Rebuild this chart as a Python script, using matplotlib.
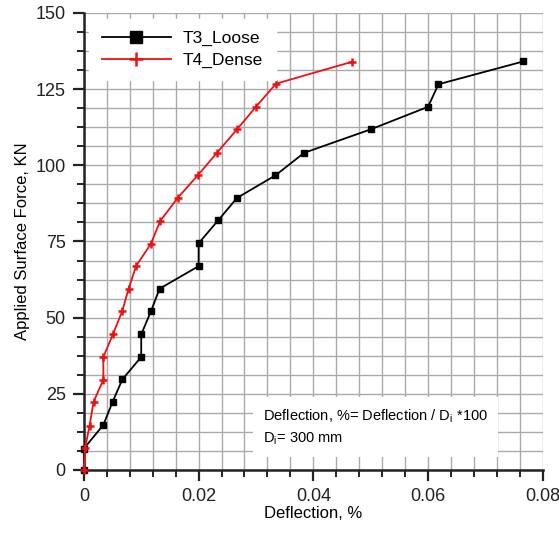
import matplotlib
matplotlib.use("Agg")
import matplotlib.pyplot as plt
from matplotlib.ticker import MultipleLocator

plt.rcParams['font.family'] = ['Liberation Sans', 'DejaVu Sans']

loose_x = [0, 0, 0.0034, 0.005, 0.0067, 0.01, 0.01, 0.0117, 0.0132, 0.02, 0.02,
           0.0234, 0.0267, 0.0334, 0.0384, 0.05, 0.06, 0.0618, 0.0766]
loose_y = [0, 7.0, 14.8, 22.3, 29.7, 37.1, 44.5, 52.1, 59.5, 66.9, 74.4,
           81.9, 89.3, 96.7, 104.1, 111.8, 119.2, 126.6, 134.1]

dense_x = [0, 0.0002, 0.001, 0.0017, 0.0034, 0.0034, 0.0051, 0.0067, 0.0078, 0.0091,
           0.0117, 0.0133, 0.0164, 0.0199, 0.0232, 0.0267, 0.030, 0.0335, 0.0468]
dense_y = [0, 7.1, 14.6, 22.4, 29.6, 37.1, 44.7, 52.2, 59.5, 66.9,
           74.3, 81.7, 89.4, 96.8, 104.1, 111.8, 119.2, 126.8, 134.0]

x_ticks = [0, 0.02, 0.04, 0.06, 0.08]
x_tick_labels = ['0', '0.02', '0.04', '0.06', '0.08']
y_ticks = [0, 25, 50, 75, 100, 125, 150]

fig = plt.figure(figsize=(5.59, 5.37), dpi=100)
ax = fig.add_axes([0.150, 0.1248, 0.821, 0.851])

ax.plot(loose_x, loose_y, color='black', lw=1.3, marker='s', ms=4.5,
        label='T3_Loose', zorder=3, clip_on=False)
ax.plot(dense_x, dense_y, color='#ee1111', lw=1.3, marker='+', ms=5.5, mew=1.8,
        label='T4_Dense', zorder=3, clip_on=False)

ax.set_xlim(0, 0.08)
ax.set_ylim(0, 150)
ax.set_xticks(x_ticks)
ax.set_xticklabels(x_tick_labels)
ax.set_yticks(y_ticks)
ax.xaxis.set_minor_locator(MultipleLocator(0.004))
ax.yaxis.set_minor_locator(MultipleLocator(6.25))

ax.grid(True, which='both', color='#aaaaaa', lw=1.0, zorder=0)
ax.set_axisbelow(True)

for s in ['top', 'right']:
    ax.spines[s].set_visible(False)
for s in ['left', 'bottom']:
    ax.spines[s].set_linewidth(1.8)
    ax.spines[s].set_color('#222222')

ax.tick_params(which='major', direction='out', length=8, width=1.6,
               labelsize=13, colors='#222222', pad=5)
ax.tick_params(which='minor', direction='out', length=5, width=1.4, colors='#222222')

ax.set_xlabel('Deflection, %', fontsize=12, labelpad=1)
ax.set_ylabel('Applied Surface Force, KN', fontsize=12, labelpad=4)

leg = ax.legend(loc='upper left', bbox_to_anchor=(0.012, 0.987), fontsize=12.5,
                frameon=True, fancybox=False, edgecolor='white', framealpha=1,
                handlelength=4.0, markerscale=1.9, borderaxespad=0.0,
                borderpad=0.7, labelspacing=0.35, handletextpad=0.7)

ax.text(0.39, 0.094, 'Deflection, %= Deflection / D$_\\mathregular{i}$ *100\nD$_\\mathregular{i}$= 300 mm',
        transform=ax.transAxes, fontsize=10.5, va='center', ha='left', linespacing=1.5,
        bbox=dict(boxstyle='square,pad=0.7', fc='white', ec='none'), zorder=2)

fig.savefig('out.png', dpi=100)
